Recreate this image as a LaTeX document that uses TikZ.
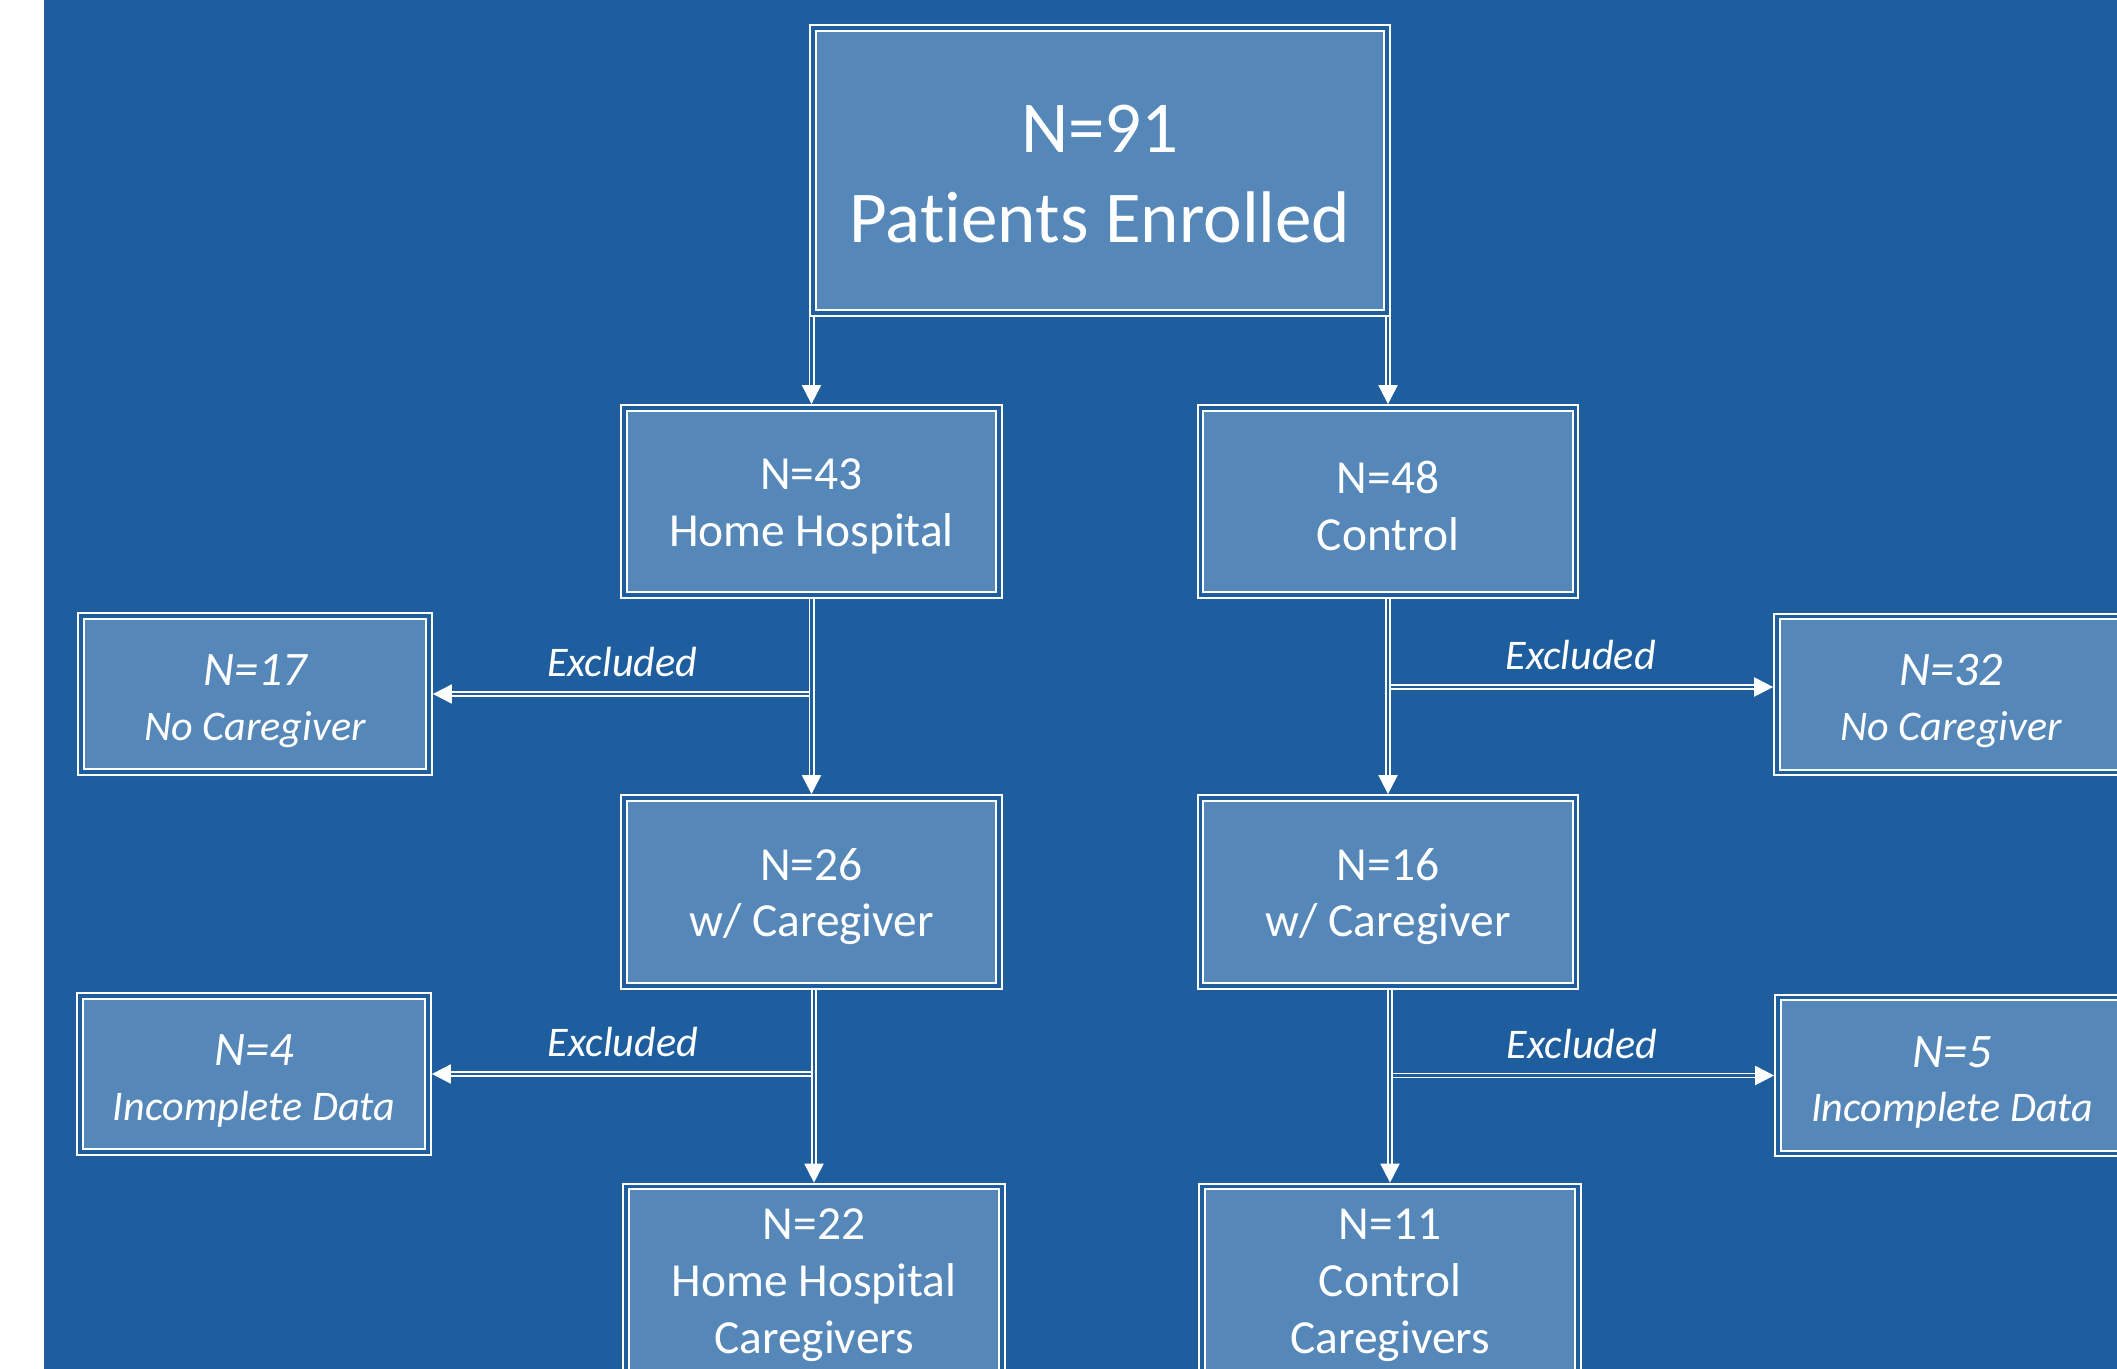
\documentclass[tikz,border=0pt]{standalone}
\usepackage{fontspec}
\setmainfont{Carlito}[Ligatures={TeX,NoCommon}, Contextuals={NoAlternate}]
\usetikzlibrary{positioning, arrows.meta}

\definecolor{bgblue}{RGB}{30,94,158}
\definecolor{boxblue}{RGB}{85,136,185}

\begin{document}
\begin{tikzpicture}[
        % Box with white double frame
        box/.style={
            rectangle, draw=white, line width=0.55pt,
            double=bgblue, double distance=1.1pt,
            fill=boxblue, text=white, inner sep=0pt, outer sep=1.1pt,
            align=center
        },
        % Main (centre column) boxes
        mainBox/.style={
            box, minimum width=3.75cm, minimum height=1.87cm,
            font=\fontsize{13.5}{16.2}\selectfont
        },
        % Excluded (side) boxes
        sideBox/.style={
            box, minimum width=3.48cm, minimum height=1.56cm,
            font=\fontsize{12}{15.6}\selectfont\itshape
        },
        line/.style={draw=white, line width=0.55pt, double=bgblue,
            double distance=0.6pt, -{Triangle[length=1.9mm, width=1.9mm]}},
        note/.style={text=white, inner sep=4.5pt,
            font=\fontsize{12}{14}\selectfont\itshape}
    ]

        % page and background
        \useasboundingbox (0,0) rectangle (21.17,-13.69);
        \clip (0,0) rectangle (21.17,-13.69);
        \fill [bgblue] (0.44,0) rectangle (21.17,-13.69);

        % --- Nodes ---

        % Enrolled patients
        \node [box, minimum width=5.74cm, minimum height=2.85cm,
            font=\fontsize{20.8}{25.6}\selectfont] (enrolled) at (11.00,-1.705)
            {\rule{0pt}{15.6pt}N=91\\Patients Enrolled};

        % Two arms
        \node [mainBox] (hh) at (8.115,-5.015) {\rule{0pt}{11.7pt}N=43\\Home Hospital};
        \node [mainBox] (ctrl) at (13.88,-5.015) {\rule{0pt}{11.7pt}N=48\\Control};

        % With caregiver
        \node [mainBox, minimum height=1.88cm] (cg26) at (8.115,-8.92) {\rule{0pt}{11.7pt}N=26\\w/ Caregiver};
        \node [mainBox, minimum height=1.88cm] (cg16) at (13.88,-8.92) {\rule{0pt}{11.7pt}N=16\\w/ Caregiver};

        % Final caregiver groups
        \node [mainBox, minimum width=3.76cm] (hhcg) at (8.14,-12.80) {\rule{0pt}{11.7pt}N=22\\Home Hospital\\Caregivers};
        \node [mainBox, minimum width=3.76cm] (ctrlcg) at (13.90,-12.80) {\rule{0pt}{11.7pt}N=11\\Control\\Caregivers};

        % Excluded groups
        \node [sideBox] (nocg17) at (2.55,-6.94) {{\fontsize{13.7}{15.6}\selectfont\rule{0pt}{12.7pt}N=17}\\No Caregiver};
        \node [sideBox] (nocg32) at (19.51,-6.945) {{\fontsize{13.7}{15.6}\selectfont\rule{0pt}{12.7pt}N=32}\\No Caregiver};
        \node [sideBox] (inc4) at (2.54,-10.74) {{\fontsize{13.7}{15.6}\selectfont\rule{0pt}{12.7pt}N=4}\\Incomplete Data};
        \node [sideBox] (inc5) at (19.52,-10.755) {{\fontsize{13.7}{15.6}\selectfont\rule{0pt}{12.7pt}N=5}\\Incomplete Data};

        \coordinate (split2) at (13.88,-6.87);


        % --- Edges ---

        % Enrolled splits into the two arms
        \path [line] (enrolled.south west -| hh.north) -- (hh.north);
        \path [line] (enrolled.south east -| ctrl.north) -- (ctrl.north);

        % Exclusions (drawn first, the trunks cover the joins)
        \path [line] (hh.south |- nocg17.east) -- node[note, above] {Excluded} (nocg17.east);
        \path [line] (split2) -- node[note, above] {Excluded} (split2 -| nocg32.west);
        \path [line] (hhcg.north |- inc4.east) -- node[note, above] {Excluded} (inc4.east);
        \path [line] (ctrlcg.north |- inc5.west) -- node[note, above] {Excluded} (inc5.west);

        % Trunks
        \path [line] (hh) -- (cg26);
        \path [line] (ctrl) -- (cg16);
        \path [line] (cg26.south -| hhcg.north) -- (hhcg.north);
        \path [line] (cg16.south -| ctrlcg.north) -- (ctrlcg.north);

    \end{tikzpicture}
\end{document}
